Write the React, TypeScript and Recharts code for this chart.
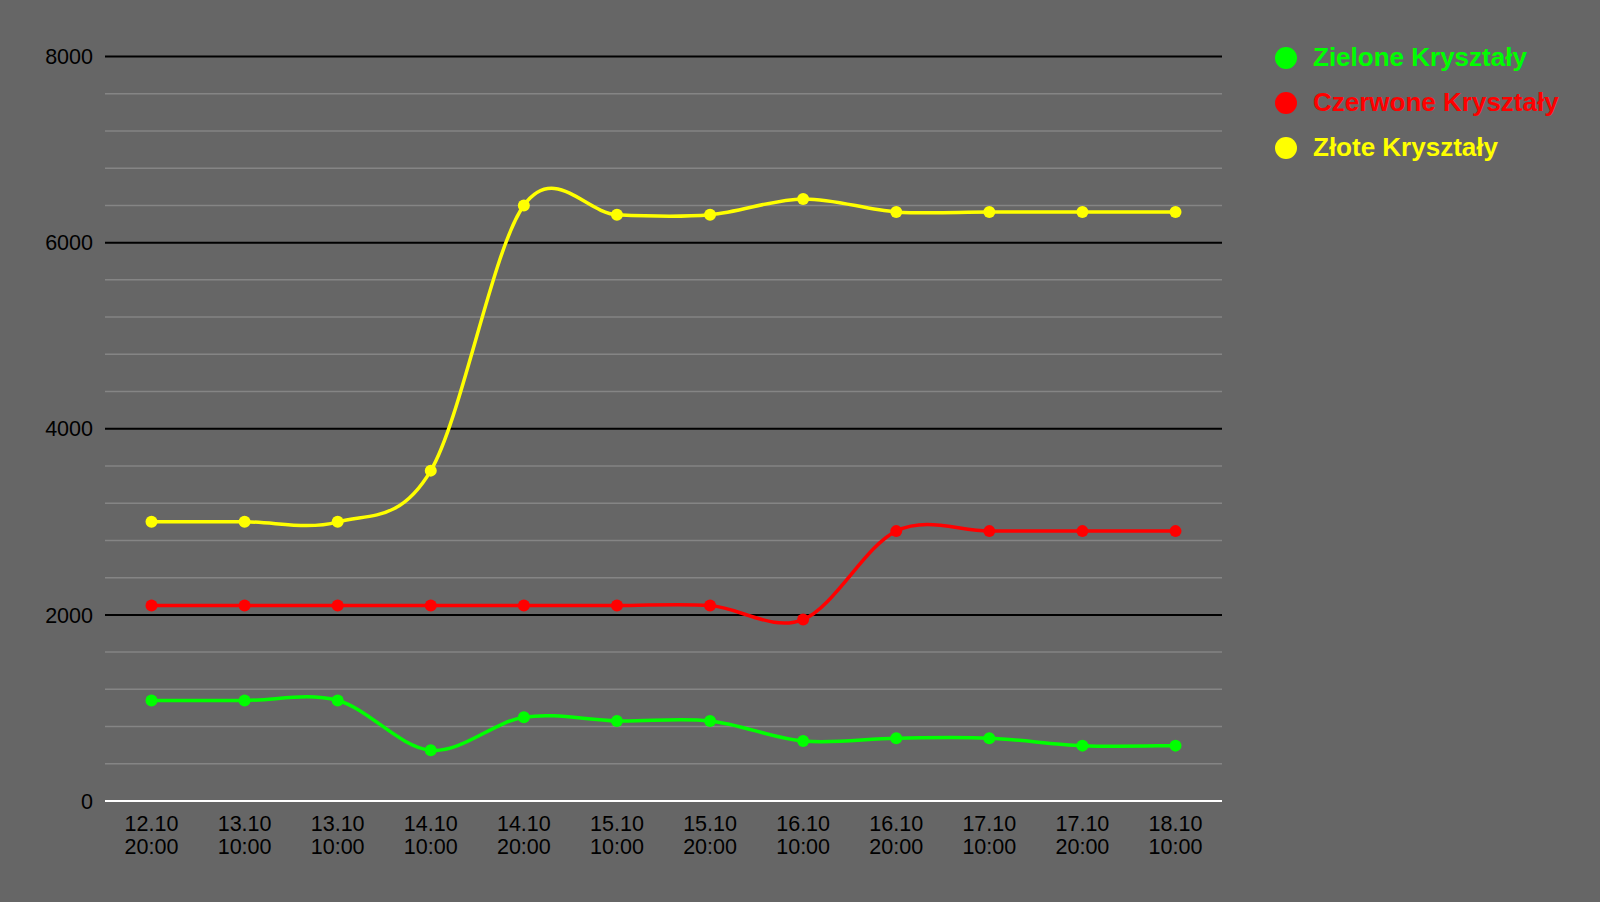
import React from 'react';
import { LineChart, Line, XAxis, YAxis, CartesianGrid } from 'recharts';

const dates = ['12.10', '13.10', '13.10', '14.10', '14.10', '15.10', '15.10', '16.10', '16.10', '17.10', '17.10', '18.10'];
const hours = ['20:00', '10:00', '10:00', '10:00', '20:00', '10:00', '20:00', '10:00', '20:00', '10:00', '20:00', '10:00'];

const green = [1080, 1080, 1080, 545, 900, 860, 860, 645, 675, 675, 595, 595];
const red = [2100, 2100, 2100, 2100, 2100, 2100, 2100, 1950, 2900, 2900, 2900, 2900];
const yellow = [3000, 3000, 3000, 3550, 6400, 6300, 6300, 6470, 6330, 6330, 6330, 6330];

const majorTicks = [0, 2000, 4000, 6000, 8000];
const minorTicks = [400, 800, 1200, 1600, 2400, 2800, 3200, 3600, 4400, 4800, 5200, 5600, 6400, 6800, 7200, 7600];

const series = [
  { key: 'green', name: 'Zielone Kryształy', color: '#00ff00' },
  { key: 'red', name: 'Czerwone Kryształy', color: '#ff0000' },
  { key: 'yellow', name: 'Złote Kryształy', color: '#ffff00' },
];

const data = dates.map((d, i) => ({
  idx: i,
  green: green[i],
  red: red[i],
  yellow: yellow[i],
}));

const FONT = '"Liberation Sans", Arial, sans-serif';

// catmull-rom style spline (control = point +/- (next - prev) / 6), ends duplicated
const splineCurve = (context: any) => {
  let pts: { x: number; y: number }[] = [];
  const k = 1 / 6;
  return {
    areaStart() {},
    areaEnd() {},
    lineStart() {
      pts = [];
    },
    point(x: number, y: number) {
      pts.push({ x: +x, y: +y });
    },
    lineEnd() {
      const n = pts.length;
      if (!n) return;
      const ctrl = pts.map((cur, i) => {
        const prev = pts[i - 1] || cur;
        const next = pts[i + 1] || cur;
        return {
          px: cur.x - k * (next.x - prev.x),
          py: cur.y - k * (next.y - prev.y),
          nx: cur.x + k * (next.x - prev.x),
          ny: cur.y + k * (next.y - prev.y),
        };
      });
      context.moveTo(pts[0].x, pts[0].y);
      for (let i = 0; i < n - 1; i++) {
        context.bezierCurveTo(ctrl[i].nx, ctrl[i].ny, ctrl[i + 1].px, ctrl[i + 1].py, pts[i + 1].x, pts[i + 1].y);
      }
    },
  };
};

const XTick = (props: any) => {
  const { x, y, payload } = props;
  const i = payload.index;
  return (
    <g transform={`translate(${x},${y})`}>
      <text textAnchor="middle" fill="#000" fontSize={21.5} fontFamily={FONT}>
        <tspan x={0} dy={22}>{dates[i]}</tspan>
        <tspan x={0} dy={23}>{hours[i]}</tspan>
      </text>
    </g>
  );
};

export default function App() {
  return (
    <div style={{ position: 'absolute', left: 0, top: 0, width: 1600, height: 902, background: '#666666', overflow: 'hidden' }}>
      <LineChart width={1600} height={902} data={data} margin={{ top: 56.5, right: 378, bottom: 41, left: 0 }}>
        <CartesianGrid vertical={false} horizontalValues={minorTicks} stroke="#858585" strokeWidth={1.5} />
        <CartesianGrid vertical={false} horizontalValues={majorTicks.slice(1)} stroke="#000000" strokeWidth={2} />
        <XAxis
          dataKey="idx"
          type="category"
          height={60}
          padding={{ left: 46.5, right: 46.5 }}
          axisLine={{ stroke: '#ffffff', strokeWidth: 2 }}
          tickLine={false}
          tick={<XTick />}
          interval={0}
        />
        <YAxis
          domain={[0, 8000]}
          ticks={majorTicks}
          width={105}
          axisLine={false}
          tickLine={false}
          tickMargin={6}
          tick={{ fill: '#000', fontSize: 21.5, fontFamily: FONT }}
        />
        {series.map((s) => (
          <Line
            key={s.key}
            dataKey={s.key}
            name={s.name}
            type={splineCurve as any}
            stroke={s.color}
            strokeWidth={3.5}
            dot={{ r: 6, fill: s.color, stroke: 'none' }}
            activeDot={false}
            isAnimationActive={false}
          />
        ))}
      </LineChart>
      {series.map((s, i) => (
        <div
          key={s.key}
          style={{ position: 'absolute', left: 1275, top: 37.5 + i * 45, height: 40, display: 'flex', alignItems: 'center' }}
        >
          <div style={{ width: 22, height: 22, borderRadius: '50%', background: s.color }} />
          <span style={{ marginLeft: 16, color: s.color, fontFamily: FONT, fontWeight: 'bold', fontSize: 26, whiteSpace: 'nowrap' }}>
            {s.name}
          </span>
        </div>
      ))}
    </div>
  );
}
